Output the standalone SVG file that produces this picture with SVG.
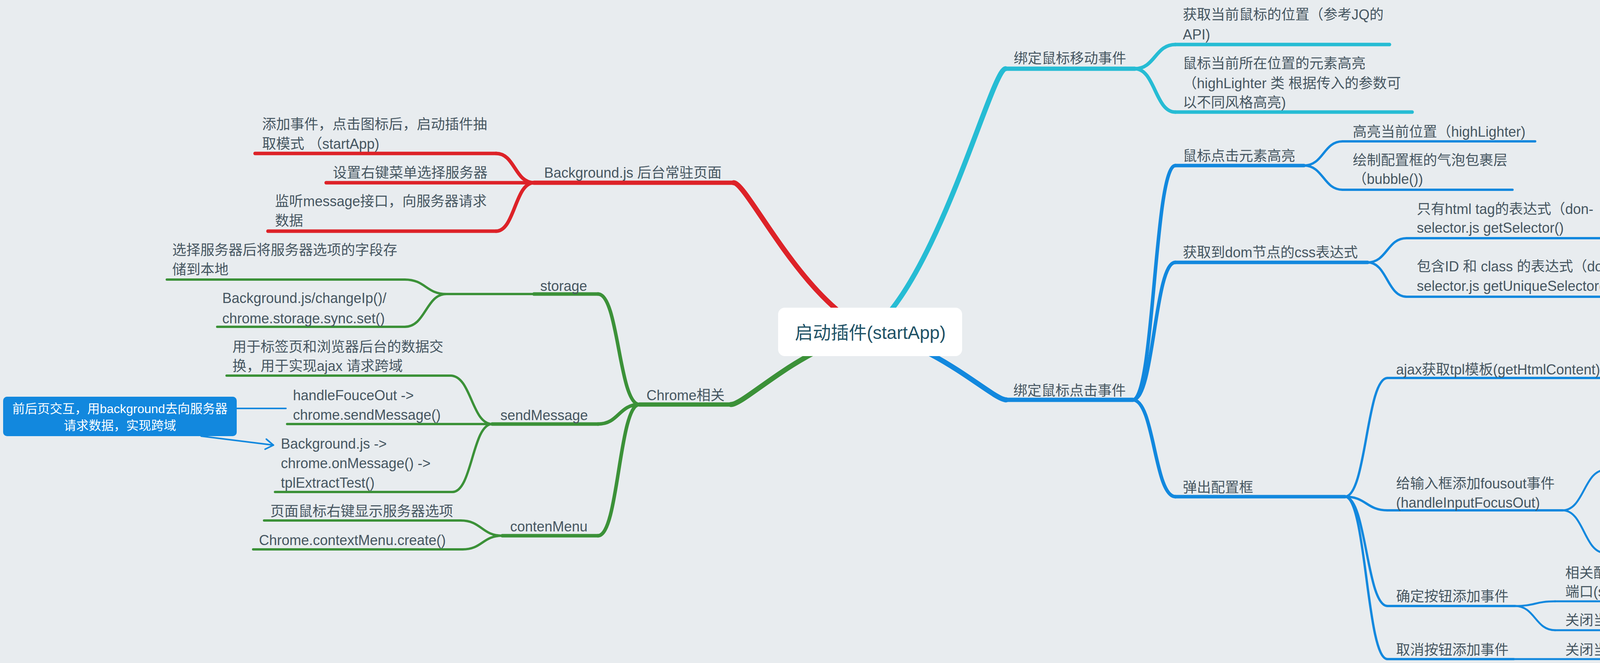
<svg xmlns="http://www.w3.org/2000/svg" width="4906" height="1698" viewBox="0 0 4906 1698">
<defs>
<style>
.t{font-family:"Liberation Sans","Noto Sans CJK SC",sans-serif;font-size:36px;fill:#465661}
.root{font-size:46px;fill:#1f5266}
.ct{font-size:32px;fill:#ffffff}
.ln{fill:none;stroke-linecap:round;stroke-linejoin:round}
.r{stroke:#DD2228}.c{stroke:#26BCD4}.b{stroke:#1288DE}.g{stroke:#3B9138}
.w13{stroke-width:13}.w11{stroke-width:11}.w9{stroke-width:9}.w6{stroke-width:6}.w4{stroke-width:5}.w3{stroke-width:4}
</style>
<marker id="arr" markerUnits="userSpaceOnUse" markerWidth="32" markerHeight="32" viewBox="0 0 32 32" refX="28" refY="16" orient="auto">
<path d="M8,3 L28,16 L8,29" fill="none" stroke="#1288DE" stroke-width="4" stroke-linecap="round" stroke-linejoin="round"/>
</marker>
</defs>
<rect width="4906" height="1698" fill="#E8ECEF"/>

<g id="connectors">
<path class="ln r w13" d="M2228,849 C2053,773 1913,468 1878,468"/>
<path class="ln c w13" d="M2228,849 C2401,714 2539,176 2574,176"/>
<path class="ln b w13" d="M2228,849 C2402,884 2541,1024 2576,1024"/>
<path class="ln g w13" d="M2228,849 C2050,886 1907,1036 1871,1036"/>

<path class="ln r w9" d="M1367,468 C1318,468 1318,393 1270,393"/>
<path class="ln r w9" d="M1367,468 C1318,468 1318,592 1270,592"/>

<path class="ln c w9" d="M2905,176 C2957,176 2957,114 3009,114"/>
<path class="ln c w9" d="M2905,176 C2957,176 2957,287 3009,287"/>

<path class="ln b w9" d="M2900,1024 C2955,1024 2955,424 3009,424"/>
<path class="ln b w9" d="M2900,1024 C2955,1024 2955,672 3009,672"/>
<path class="ln b w9" d="M2900,1024 C2955,1024 2955,1272 3009,1272"/>

<path class="ln b w6" d="M3338,424 C3388,424 3388,362 3437,362"/>
<path class="ln b w6" d="M3338,424 C3388,424 3388,486 3437,486"/>
<path class="ln b w6" d="M3501,672 C3551,672 3551,610 3601,610"/>
<path class="ln b w6" d="M3501,672 C3551,672 3551,760 3601,760"/>
<path class="ln b w6" d="M3443,1272 C3498,1272 3498,968 3552,968"/>
<path class="ln b w6" d="M3443,1272 C3498,1272 3498,1307 3552,1307"/>
<path class="ln b w6" d="M3443,1272 C3498,1272 3498,1552 3552,1552"/>
<path class="ln b w6" d="M3443,1272 C3498,1272 3498,1688 3552,1688"/>

<path class="ln b w4" d="M4173,760 C4228,760 4228,783 4282,783"/>
<path class="ln b w4" d="M4134,968 C4186,968 4186,906 4237,906"/>
<path class="ln b w4" d="M4134,968 C4186,968 4186,1080 4237,1080"/>
<path class="ln b w4" d="M4000,1307 C4055,1307 4055,1204 4109,1204"/>
<path class="ln b w4" d="M4000,1307 C4055,1307 4055,1416 4109,1416"/>
<path class="ln b w4" d="M3878,1552 C3930,1552 3930,1540 3981,1540"/>
<path class="ln b w4" d="M3878,1552 C3930,1552 3930,1614 3981,1614"/>

<path class="ln g w9" d="M1637,1036 C1584,1036 1584,753 1531,753"/>
<path class="ln g w9" d="M1637,1036 C1584,1036 1584,1086 1531,1086"/>
<path class="ln g w9" d="M1637,1036 C1584,1036 1584,1372 1531,1372"/>

<path class="ln g w6" d="M1367,753 L1143,753"/>
<path class="ln g w6" d="M1143,753 C1090,753 1090,716 1036,716"/>
<path class="ln g w6" d="M1143,753 C1090,753 1090,837 1036,837"/>
<path class="ln g w6" d="M1260,1086 C1207,1086 1207,962 1153,962"/>
<path class="ln g w6" d="M1260,1086 C1209,1086 1209,1260 1158,1260"/>
<path class="ln g w6" d="M1286,1372 C1233,1372 1233,1333 1179,1333"/>
<path class="ln g w6" d="M1286,1372 C1235,1372 1235,1407 1184,1407"/>

<path class="ln b w3" d="M606,1046 L732,1046"/>
<path class="ln b w3" d="M515,1117 L700,1140" marker-end="url(#arr)"/>
</g>

<g id="n-root">
<rect x="1992" y="788" width="471" height="124" rx="17" fill="#FFFFFF"/>
<text class="t root" x="2228" y="868" text-anchor="middle">启动插件(startApp)</text>
</g>

<g id="n-bg">
<path class="ln r w11" d="M1367,468 L1878,468"/>
<text class="t" x="1393" y="455">Background.js 后台常驻页面</text>
</g>
<g id="n-bg-1">
<path class="ln r w9" d="M653,393 L1270,393"/>
<text class="t"><tspan x="671" y="331">添加事件，点击图标后，启动插件抽</tspan><tspan x="671" y="381">取模式 （startApp)</tspan></text>
</g>
<g id="n-bg-2">
<path class="ln r w9" d="M835,468 L1367,468"/>
<text class="t" x="852" y="455">设置右键菜单选择服务器</text>
</g>
<g id="n-bg-3">
<path class="ln r w9" d="M686,592 L1270,592"/>
<text class="t"><tspan x="704" y="528">监听message接口，向服务器请求</tspan><tspan x="704" y="578">数据</tspan></text>
</g>

<g id="n-move">
<path class="ln c w11" d="M2574,176 L2905,176"/>
<text class="t" x="2595" y="162">绑定鼠标移动事件</text>
</g>
<g id="n-move-1">
<path class="ln c w9" d="M3009,114 L3557,114"/>
<text class="t"><tspan x="3028" y="50">获取当前鼠标的位置（参考JQ的</tspan><tspan x="3028" y="101">API)</tspan></text>
</g>
<g id="n-move-2">
<path class="ln c w9" d="M3009,287 L3615,287"/>
<text class="t"><tspan x="3028" y="175">鼠标当前所在位置的元素高亮</tspan><tspan x="3028" y="226">（highLighter 类 根据传入的参数可</tspan><tspan x="3028" y="275">以不同风格高亮)</tspan></text>
</g>

<g id="n-click">
<path class="ln b w11" d="M2576,1024 L2900,1024"/>
<text class="t" x="2594" y="1013">绑定鼠标点击事件</text>
</g>
<g id="n-hl">
<path class="ln b w9" d="M3009,424 L3338,424"/>
<text class="t" x="3028" y="412">鼠标点击元素高亮</text>
</g>
<g id="n-hl-1">
<path class="ln b w6" d="M3437,362 L3930,362"/>
<text class="t" x="3463" y="350">高亮当前位置（highLighter)</text>
</g>
<g id="n-hl-2">
<path class="ln b w6" d="M3437,486 L3872,486"/>
<text class="t"><tspan x="3463" y="423">绘制配置框的气泡包裹层</tspan><tspan x="3463" y="471">（bubble())</tspan></text>
</g>
<g id="n-css">
<path class="ln b w9" d="M3009,672 L3501,672"/>
<text class="t" x="3028" y="659">获取到dom节点的css表达式</text>
</g>
<g id="n-css-1">
<path class="ln b w6" d="M3601,610 L4113,610"/>
<text class="t"><tspan x="3627" y="548">只有html tag的表达式（don-</tspan><tspan x="3627" y="596">selector.js getSelector()</tspan></text>
</g>
<g id="n-css-1a">
<path class="ln b w4" d="M4113,610 L4836,610"/>
<text class="t"><tspan x="4248" y="548">由当前的节点不断向上回溯，拿到元</tspan><tspan x="4248" y="597">素的localname 并整合到路径上</tspan></text>
</g>
<g id="n-css-2">
<path class="ln b w6" d="M3601,760 L4173,760"/>
<text class="t"><tspan x="3627" y="695">包含ID 和 class 的表达式（dom-</tspan><tspan x="3627" y="745">selector.js getUniqueSelector())</tspan></text>
</g>
<g id="n-css-2a">
<path class="ln b w4" d="M4282,783 L4895,783"/>
<text class="t"><tspan x="4310" y="672">由当前节点不断向上回溯，用正则去</tspan><tspan x="4310" y="722">匹配ID和class, 并添加到路径上，遇</tspan><tspan x="4310" y="771">到无数字结尾的id即结束回溯</tspan></text>
</g>

<g id="n-popup">
<path class="ln b w9" d="M3009,1272 L3443,1272"/>
<text class="t" x="3028" y="1261">弹出配置框</text>
</g>
<g id="n-ajax">
<path class="ln b w6" d="M3552,968 L4134,968"/>
<text class="t" x="3574" y="959">ajax获取tpl模板(getHtmlContent)</text>
</g>
<g id="n-ajax-1">
<path class="ln b w4" d="M4237,906 L4800,906"/>
<text class="t"><tspan x="4262" y="847">由tmpl.js解析模板文件(tmpl.js /</tspan><tspan x="4262" y="895">create())</tspan></text>
</g>
<g id="n-ajax-2">
<path class="ln b w4" d="M4237,1080 L4800,1080"/>
<text class="t"><tspan x="4262" y="972">根据window.name 查询当前页的</tspan><tspan x="4262" y="1020">templateId，并填到配置框</tspan><tspan x="4262" y="1068">(getTemplateId)</tspan></text>
</g>
<g id="n-input">
<path class="ln b w6" d="M3552,1307 L4000,1307"/>
<text class="t"><tspan x="3574" y="1251">给输入框添加fousout事件</tspan><tspan x="3574" y="1300">(handleInputFocusOut)</tspan></text>
</g>
<g id="n-input-1">
<path class="ln b w4" d="M4109,1204 L4716,1204"/>
<text class="t"><tspan x="4128" y="1143">获取当前配置项，向背景页请求数据</tspan><tspan x="4128" y="1192">(chrome.sendMessage())</tspan></text>
</g>
<g id="n-input-2">
<path class="ln b w4" d="M4109,1416 L4716,1416"/>
<text class="t"><tspan x="4128" y="1266">背景页根据配置向服务器请求数据，</tspan><tspan x="4128" y="1315">返回给当前页，并填入配置的result</tspan><tspan x="4128" y="1362">chrome.getMessage() /</tspan><tspan x="4128" y="1408">sdk.tplExtractTest()</tspan></text>
</g>
<g id="n-ok">
<path class="ln b w6" d="M3552,1552 L3878,1552"/>
<text class="t" x="3574" y="1540">确定按钮添加事件</text>
</g>
<g id="n-ok-1">
<path class="ln b w4" d="M3981,1540 L4578,1540"/>
<text class="t"><tspan x="4007" y="1480">相关配置提交搭配tplExtractUpdate</tspan><tspan x="4007" y="1528">端口(sdk.tplExtractUpdate)</tspan></text>
</g>
<g id="n-ok-2">
<path class="ln b w4" d="M3981,1614 L4589,1614"/>
<text class="t" x="4007" y="1601">关闭当前的插件抽取模式 stopApp()</text>
</g>
<g id="n-cancel">
<path class="ln b w6" d="M3552,1688 L3875,1688"/>
<text class="t" x="3574" y="1677">取消按钮添加事件</text>
</g>
<g id="n-cancel-1">
<path class="ln b w4" d="M3875,1688 L4531,1688"/>
<text class="t" x="4007" y="1677">关闭当前的插件模式(stopApp())</text>
</g>

<g id="n-chrome">
<path class="ln g w11" d="M1637,1036 L1871,1036"/>
<text class="t" x="1655" y="1025">Chrome相关</text>
</g>
<g id="n-storage">
<path class="ln g w9" d="M1367,753 L1531,753"/>
<text class="t" x="1383" y="745">storage</text>
</g>
<g id="n-storage-1">
<path class="ln g w6" d="M427,716 L1036,716"/>
<text class="t"><tspan x="441" y="653">选择服务器后将服务器选项的字段存</tspan><tspan x="441" y="703">储到本地</tspan></text>
</g>
<g id="n-storage-2">
<path class="ln g w6" d="M556,837 L1036,837"/>
<text class="t"><tspan x="569" y="776">Background.js/changeIp()/</tspan><tspan x="569" y="828">chrome.storage.sync.set()</tspan></text>
</g>
<g id="n-send">
<path class="ln g w9" d="M1260,1086 L1531,1086"/>
<text class="t" x="1281" y="1076">sendMessage</text>
</g>
<g id="n-send-1">
<path class="ln g w6" d="M580,962 L1153,962"/>
<text class="t"><tspan x="595" y="901">用于标签页和浏览器后台的数据交</tspan><tspan x="595" y="950">换，用于实现ajax 请求跨域</tspan></text>
</g>
<g id="n-send-2">
<path class="ln g w6" d="M735,1086 L1260,1086"/>
<text class="t"><tspan x="750" y="1025">handleFouceOut -&gt;</tspan><tspan x="750" y="1075">chrome.sendMessage()</tspan></text>
</g>
<g id="n-send-3">
<path class="ln g w6" d="M704,1260 L1158,1260"/>
<text class="t"><tspan x="719" y="1149">Background.js -&gt;</tspan><tspan x="719" y="1199">chrome.onMessage() -&gt;</tspan><tspan x="719" y="1249">tplExtractTest()</tspan></text>
</g>
<g id="n-menu">
<path class="ln g w9" d="M1286,1372 L1531,1372"/>
<text class="t" x="1306" y="1361">contenMenu</text>
</g>
<g id="n-menu-1">
<path class="ln g w6" d="M676,1333 L1179,1333"/>
<text class="t" x="692" y="1322">页面鼠标右键显示服务器选项</text>
</g>
<g id="n-menu-2">
<path class="ln g w6" d="M648,1407 L1184,1407"/>
<text class="t" x="663" y="1396">Chrome.contextMenu.create()</text>
</g>

<g id="n-callout">
<rect x="8" y="1016" width="598" height="101" rx="10" fill="#1288DE"/>
<text class="t ct" text-anchor="middle"><tspan x="307" y="1058">前后页交互，用background去向服务器</tspan><tspan x="307" y="1101">请求数据，实现跨域</tspan></text>
</g>
</svg>
